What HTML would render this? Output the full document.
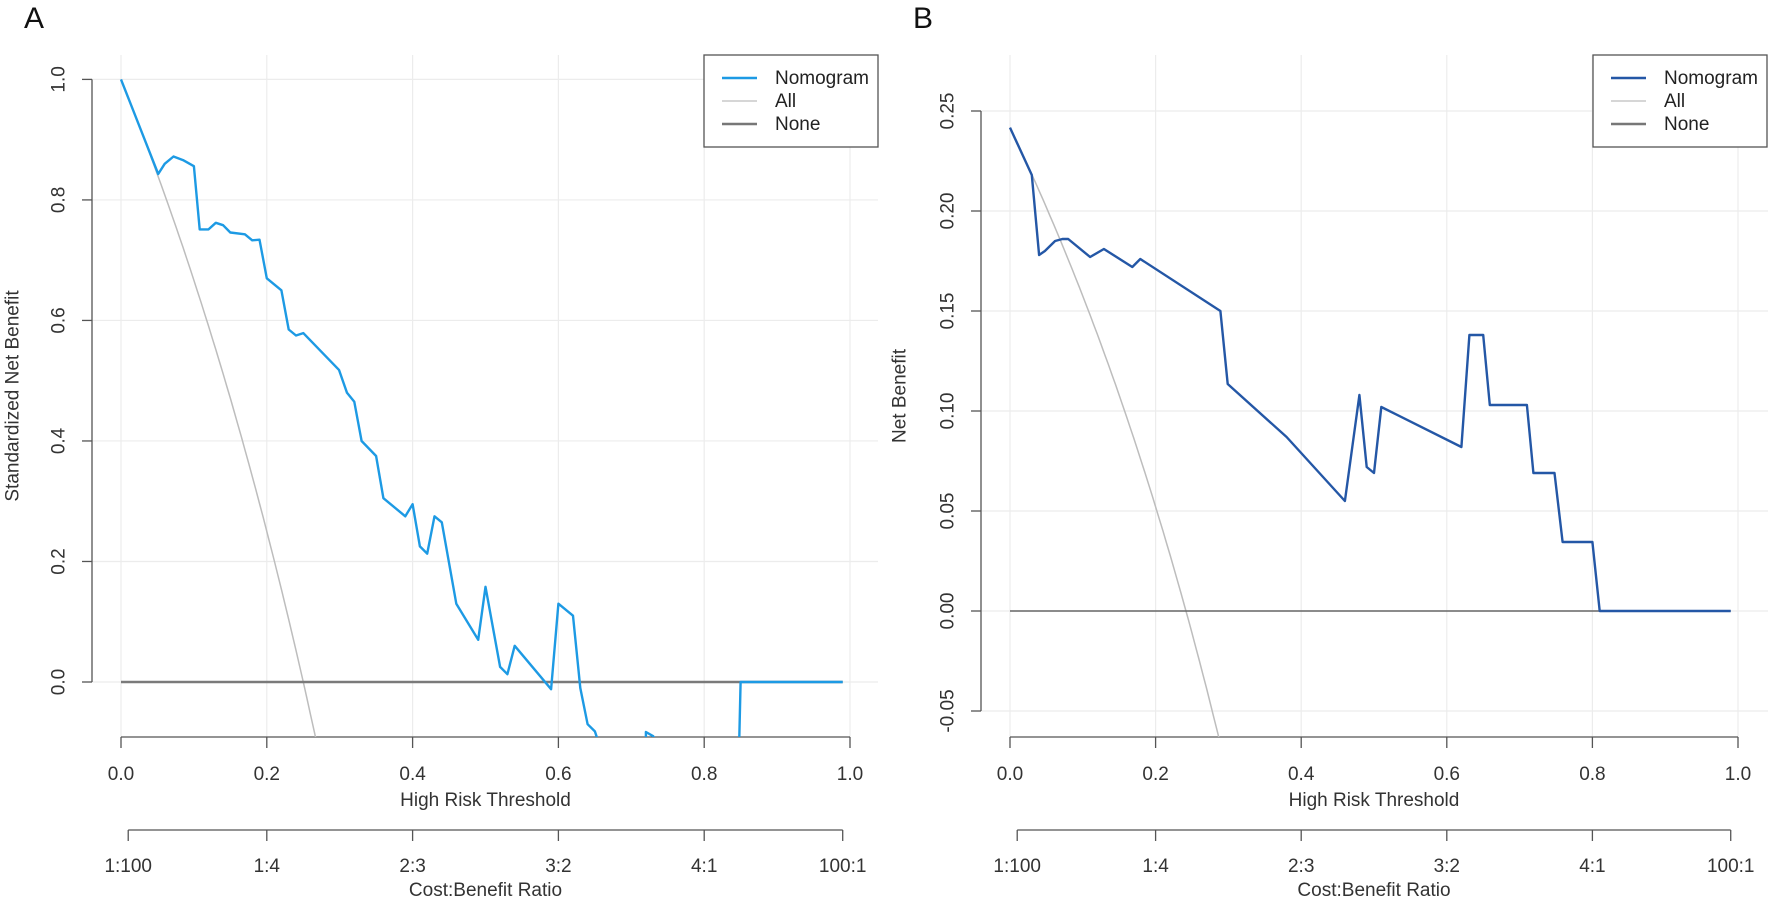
<!DOCTYPE html>
<html><head><meta charset="utf-8"><style>
html,body{margin:0;padding:0;background:#fff;overflow:hidden;}
svg{display:block;font-family:"Liberation Sans",Arial,sans-serif;}
</style></head><body>
<svg id="s" width="1772" height="902" viewBox="0 0 1772 902" xmlns="http://www.w3.org/2000/svg">
<defs>
<clipPath id="cA"><rect x="92" y="55" width="786" height="682"/></clipPath>
<clipPath id="cB"><rect x="981" y="55" width="787" height="682"/></clipPath>
</defs>
<g id="g"></g>
</svg>
<script>
var NS="http://www.w3.org/2000/svg",g=document.getElementById('g');
function el(t,a,txt,parent){var e=document.createElementNS(NS,t);for(var k in a)e.setAttribute(k,a[k]);if(txt!=null)e.textContent=txt;(parent||g).appendChild(e);return e;}
var FS=19;
function panel(o){
  var X=function(t){return o.x0+t*o.xs;},Y=function(v){return o.y0-v*o.ys;};
  for(var i=0;i<=5;i++){var x=X(i*0.2);el('line',{x1:x,y1:55,x2:x,y2:737,stroke:'#ececec','stroke-width':1.2});}
  o.yt.forEach(function(v){var y=Y(v);el('line',{x1:o.ax,y1:y,x2:o.right,y2:y,stroke:'#ececec','stroke-width':1.2});});
  el('line',{x1:o.ax,y1:Y(o.yt[0]),x2:o.ax,y2:Y(o.yt[o.yt.length-1]),stroke:'#555','stroke-width':1.3});
  o.yt.forEach(function(v,i){var y=Y(v);el('line',{x1:o.ax-10,y1:y,x2:o.ax,y2:y,stroke:'#555','stroke-width':1.3});
    el('text',{x:o.lx,y:y,'font-size':FS,fill:'#333','text-anchor':'middle',transform:'rotate(-90 '+o.lx+' '+y+')','dominant-baseline':'central'},o.yl[i]);});
  el('text',{x:o.tx,y:396,'font-size':FS,fill:'#333','text-anchor':'middle',transform:'rotate(-90 '+o.tx+' 396)','dominant-baseline':'central'},o.ytitle);
  el('line',{x1:X(0),y1:737,x2:X(1),y2:737,stroke:'#555','stroke-width':1.3});
  ['0.0','0.2','0.4','0.6','0.8','1.0'].forEach(function(s,i){var x=X(i*0.2);el('line',{x1:x,y1:737,x2:x,y2:748,stroke:'#555','stroke-width':1.3});
    el('text',{x:x,y:780,'font-size':FS,fill:'#333','text-anchor':'middle'},s);});
  el('text',{x:X(0.5),y:806,'font-size':FS,fill:'#333','text-anchor':'middle'},'High Risk Threshold');
  var ct=[0.0099,0.2,0.4,0.6,0.8,0.99],cl=['1:100','1:4','2:3','3:2','4:1','100:1'];
  el('line',{x1:X(ct[0]),y1:830,x2:X(ct[5]),y2:830,stroke:'#555','stroke-width':1.3});
  ct.forEach(function(t,i){var x=X(t);el('line',{x1:x,y1:830,x2:x,y2:841,stroke:'#555','stroke-width':1.3});
    el('text',{x:x,y:872,'font-size':FS,fill:'#333','text-anchor':'middle'},cl[i]);});
  el('text',{x:X(0.5),y:896,'font-size':FS,fill:'#333','text-anchor':'middle'},'Cost:Benefit Ratio');
  var cg=el('g',{'clip-path':'url(#'+o.clip+')'});
  var pts=[];for(var t=0;t<=0.6;t+=0.005){pts.push(X(t).toFixed(1)+','+Y(o.all(t)).toFixed(1));}
  el('polyline',{points:pts.join(' '),fill:'none',stroke:'#bdbdbd','stroke-width':1.5},null,cg);
  el('line',{x1:X(0),y1:Y(0),x2:X(0.99),y2:Y(0),stroke:o.noneC,'stroke-width':o.noneW},null,cg);
  el('polyline',{points:o.d.map(function(p){return X(p[0]).toFixed(1)+','+Y(p[1]).toFixed(1);}).join(' '),fill:'none',stroke:o.col,'stroke-width':2.4,'stroke-linejoin':'round'},null,cg);
  var L=o.leg;
  el('rect',{x:L,y:55,width:174,height:92,fill:'#fff',stroke:'#555','stroke-width':1.3});
  [[o.col,2.4,'Nomogram',78],['#c8c8c8',1.5,'All',101],['#777',2.4,'None',124]].forEach(function(r){
    el('line',{x1:L+18,y1:r[3],x2:L+53,y2:r[3],stroke:r[0],'stroke-width':r[1]});
    el('text',{x:L+71,y:r[3]+6,'font-size':19,fill:'#222'},r[2]);});
  el('text',{x:o.lbx,y:28,'font-size':30,fill:'#111'},o.lab);
}
panel({x0:121,xs:729,y0:682,ys:602.6,ax:92,right:878,lx:59,tx:13,clip:'cA',leg:704,lbx:24,lab:'A',
 yt:[0,0.2,0.4,0.6,0.8,1.0],yl:['0.0','0.2','0.4','0.6','0.8','1.0'],ytitle:'Standardized Net Benefit',
 col:'#1d9ae4',noneC:'#7a7a7a',noneW:2.6,
 all:function(t){return 1-3*t/(1-t);},
 d:[[0,1.0],[0.051,0.843],[0.06,0.86],[0.072,0.872],[0.085,0.866],[0.1,0.856],[0.108,0.751],[0.12,0.751],[0.13,0.762],[0.14,0.758],[0.15,0.746],[0.17,0.743],[0.18,0.733],[0.19,0.734],[0.2,0.67],[0.22,0.65],[0.23,0.585],[0.24,0.575],[0.25,0.579],[0.299,0.518],[0.31,0.48],[0.32,0.465],[0.33,0.40],[0.35,0.375],[0.36,0.305],[0.39,0.275],[0.4,0.295],[0.41,0.225],[0.42,0.213],[0.43,0.275],[0.44,0.265],[0.46,0.13],[0.49,0.07],[0.5,0.158],[0.52,0.025],[0.53,0.013],[0.54,0.06],[0.59,-0.012],[0.6,0.13],[0.62,0.11],[0.63,-0.01],[0.64,-0.07],[0.65,-0.082],[0.655,-0.1],[0.72,-0.1],[0.72,-0.083],[0.73,-0.09],[0.735,-0.1],[0.848,-0.1],[0.85,0],[0.99,0]]});
panel({x0:1010,xs:728,y0:611,ys:2000,ax:981,right:1768,lx:948,tx:900,clip:'cB',leg:1593,lbx:913,lab:'B',
 yt:[-0.05,0,0.05,0.10,0.15,0.20,0.25],yl:['-0.05','0.00','0.05','0.10','0.15','0.20','0.25'],ytitle:'Net Benefit',
 col:'#2457a6',noneC:'#666',noneW:1.4,
 all:function(t){var p=0.2417;return p-(1-p)*t/(1-t);},
 d:[[0,0.2417],[0.030,0.218],[0.04,0.178],[0.048,0.180],[0.062,0.185],[0.072,0.186],[0.08,0.186],[0.11,0.177],[0.129,0.181],[0.168,0.172],[0.179,0.176],[0.289,0.150],[0.299,0.1135],[0.38,0.087],[0.46,0.055],[0.48,0.108],[0.49,0.072],[0.50,0.069],[0.51,0.102],[0.62,0.082],[0.631,0.138],[0.65,0.138],[0.659,0.103],[0.71,0.103],[0.719,0.069],[0.748,0.069],[0.759,0.0345],[0.80,0.0345],[0.81,0],[0.99,0]]});
</script>
</body></html>
